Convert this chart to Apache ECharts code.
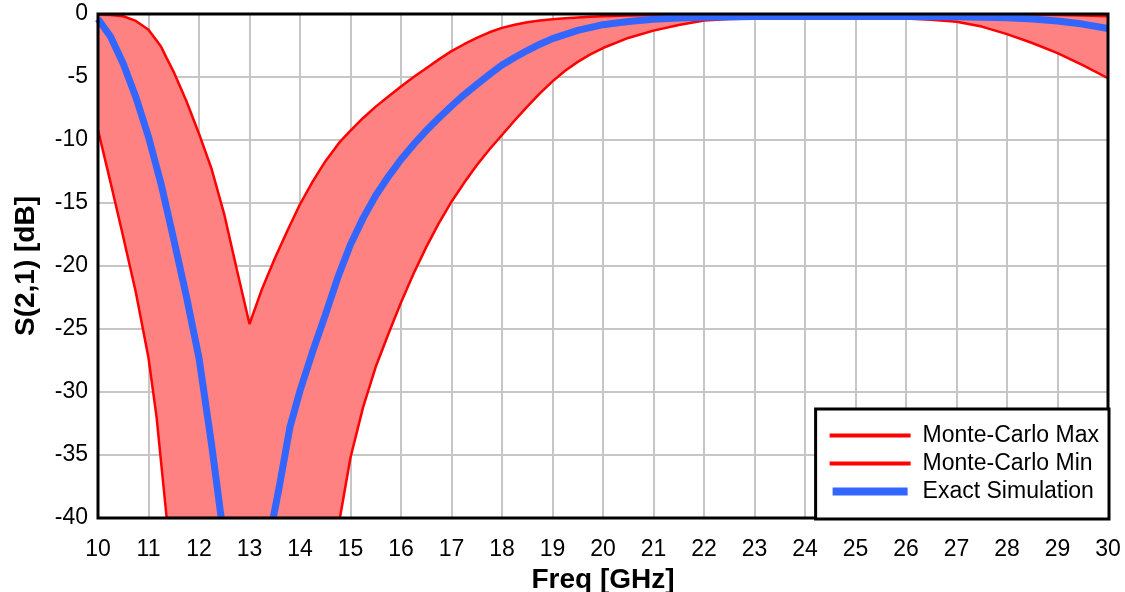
<!DOCTYPE html>
<html>
<head>
<meta charset="utf-8">
<script src="https://cdn.jsdelivr.net/npm/echarts@6/dist/echarts.min.js"></script>
<style>
html,body{margin:0;padding:0;background:#fff;}
#chart{width:1125px;height:592px;}
</style>
</head>
<body>
<div id="chart"></div>
<script>
// Monte-Carlo envelope, sampled on a common frequency grid (GHz)
const freq = [10, 10.25, 10.5, 10.75, 11, 11.16, 11.25, 11.36, 11.5, 11.75, 12, 12.25, 12.5, 12.75, 13, 13.25, 13.5, 13.75, 14, 14.25, 14.5, 14.75, 14.79, 15, 15.25, 15.5, 15.75, 16, 16.25, 16.5, 16.75, 17, 17.25, 17.5, 17.75, 18, 18.25, 18.5, 18.75, 19, 19.25, 19.5, 19.75, 20, 20.5, 21, 21.5, 22, 22.5, 23, 24, 25, 26, 26.5, 27, 27.5, 28, 28.5, 29, 29.5, 30];
const mcMax = [-0.05, -0.08, -0.18, -0.55, -1.25, -2.1, -2.6, -3.5, -4.6, -6.9, -9.5, -12.3, -15.9, -20.3, -24.6, -21.8, -19.4, -17.2, -15.1, -13.3, -11.7, -10.35, -10.15, -9.25, -8.25, -7.35, -6.55, -5.75, -5.0, -4.3, -3.6, -2.95, -2.4, -1.9, -1.45, -1.1, -0.85, -0.65, -0.52, -0.42, -0.34, -0.28, -0.22, -0.18, -0.12, -0.08, -0.06, -0.05, -0.05, -0.05, -0.05, -0.05, -0.05, -0.05, -0.05, -0.05, -0.05, -0.06, -0.08, -0.12, -0.18];
// Min envelope; -40 where it lies at/below the bottom of the plot
const mcMin = [-9.2, -13.4, -17.7, -22.1, -27.3, -32.0, -35.6, -40, -40, -40, -40, -40, -40, -40, -40, -40, -40, -40, -40, -40, -40, -40, -40, -35.2, -31.2, -28.0, -25.4, -22.9, -20.6, -18.5, -16.6, -14.9, -13.4, -12.0, -10.75, -9.6, -8.45, -7.35, -6.3, -5.35, -4.5, -3.8, -3.2, -2.7, -1.9, -1.32, -0.88, -0.52, -0.4, -0.35, -0.32, -0.32, -0.35, -0.45, -0.62, -1.0, -1.6, -2.3, -3.1, -4.05, -5.1];

// Exact simulation (null = below the plotted range)
const exactFreq = [10, 10.25, 10.5, 10.75, 11, 11.25, 11.5, 11.75, 12, 12.25, 12.44, 13, 13.47, 13.6, 13.8, 14, 14.25, 14.5, 14.75, 15, 15.25, 15.5, 15.75, 16, 16.25, 16.5, 16.75, 17, 17.25, 17.5, 17.75, 18, 18.25, 18.5, 18.75, 19, 19.5, 20, 20.5, 21, 21.5, 22, 23, 24, 25, 26, 27, 28, 28.5, 29, 29.5, 30];
const exactDb = [-0.4, -1.8, -3.95, -6.6, -9.75, -13.5, -17.9, -22.4, -27.3, -34.2, -40, null, -40, -37.3, -32.8, -29.9, -26.8, -23.9, -20.9, -18.3, -16.2, -14.4, -12.9, -11.55, -10.35, -9.25, -8.25, -7.3, -6.4, -5.6, -4.8, -4.05, -3.45, -2.9, -2.4, -1.95, -1.3, -0.85, -0.6, -0.42, -0.32, -0.26, -0.2, -0.2, -0.2, -0.2, -0.22, -0.3, -0.4, -0.55, -0.8, -1.15];

const FONT = '"Liberation Sans", Arial, Helvetica, sans-serif';
const pairs = (xs, ys) => xs.map((x, i) => [x, ys[i]]);

const chart = echarts.init(document.getElementById('chart'), null, {renderer: 'canvas'});
chart.setOption({
  animation: false,
  backgroundColor: '#fff',
  textStyle: {fontFamily: FONT},
  grid: {left: 98, right: 17, top: 14, bottom: 74, containLabel: false, outerBoundsMode: 'none',
    show: true, backgroundColor: 'transparent', borderColor: '#000', borderWidth: 3, z: 10},
  xAxis: {
    type: 'value', min: 10, max: 30, interval: 1,
    axisLine: {show: false}, axisTick: {show: false},
    splitLine: {show: true, lineStyle: {color: '#c6c6c6', width: 2}},
    axisLabel: {fontSize: 23, color: '#000', margin: 20, fontFamily: FONT},
    name: 'Freq [GHz]', nameLocation: 'middle', nameGap: 47,
    nameTextStyle: {fontSize: 28, fontWeight: 'bold', color: '#000', fontFamily: FONT}
  },
  yAxis: {
    type: 'value', min: -40, max: 0, interval: 5,
    axisLine: {show: false}, axisTick: {show: false},
    splitLine: {show: true, lineStyle: {color: '#c6c6c6', width: 2}},
    axisLabel: {fontSize: 23, color: '#000', margin: 10, fontFamily: FONT},
    name: 'S(2,1) [dB]', nameLocation: 'middle', nameGap: 58,
    nameTextStyle: {fontSize: 28, fontWeight: 'bold', color: '#000', fontFamily: FONT}
  },
  legend: {
    orient: 'vertical', right: 16, bottom: 73, z: 20,
    backgroundColor: '#fff', borderColor: '#000', borderWidth: 3, borderRadius: 0,
    padding: [15, 10, 16, 14], itemWidth: 81, itemHeight: 14, itemGap: 5,
    selectedMode: false, symbolKeepAspect: true,
    textStyle: {fontSize: 23, color: '#000', fontFamily: FONT, lineHeight: 22, padding: [0, 0, 0, 7]},
    data: [
      {name: 'Monte-Carlo Max', icon: 'path://M0,0H81V4H0Z', itemStyle: {color: '#ff0000', borderWidth: 0}},
      {name: 'Monte-Carlo Min', icon: 'path://M0,0H81V4H0Z', itemStyle: {color: '#ff0000', borderWidth: 0}},
      {name: 'Exact Simulation', icon: 'path://M3,0H78V8H3Z M0,4H81', itemStyle: {color: '#3366ff', borderWidth: 0}}
    ]
  },
  series: [
    {
      name: 'band', type: 'custom', z: 2, silent: true, clip: true,
      data: [[10, 0]],
      renderItem: function (params, api) {
        const pts = [];
        for (let i = 0; i < freq.length; i++) pts.push(api.coord([freq[i], mcMax[i]]));
        for (let i = freq.length - 1; i >= 0; i--) pts.push(api.coord([freq[i], mcMin[i]]));
        return {type: 'polygon', shape: {points: pts}, style: {fill: '#ff8282', stroke: null}};
      }
    },
    {
      name: 'Monte-Carlo Min', type: 'line',
      data: pairs(freq, mcMin), showSymbol: false, symbol: 'none', z: 3,
      lineStyle: {color: '#ff0000', width: 2.5}, itemStyle: {color: '#ff0000'}
    },
    {
      name: 'Monte-Carlo Max', type: 'line',
      data: pairs(freq, mcMax), showSymbol: false, symbol: 'none', z: 3,
      lineStyle: {color: '#ff0000', width: 2.5}, itemStyle: {color: '#ff0000'}
    },
    {
      name: 'Exact Simulation', type: 'line', connectNulls: false,
      data: pairs(exactFreq, exactDb), showSymbol: false, symbol: 'none', z: 4,
      lineStyle: {color: '#3366ff', width: 7}, itemStyle: {color: '#3366ff'}
    }
  ]
});
</script>
</body>
</html>
